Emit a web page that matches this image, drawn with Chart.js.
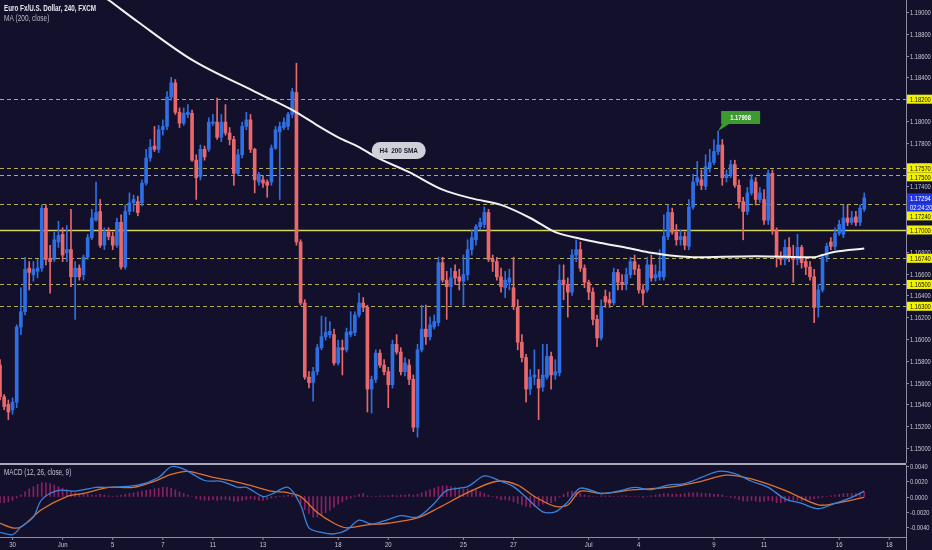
<!DOCTYPE html>
<html>
<head>
<meta charset="utf-8">
<script src="https://cdn.jsdelivr.net/npm/chart.js@4.4.1/dist/chart.umd.min.js"></script>
<style>
  html, body { margin: 0; padding: 0; background: #12102a; }
  #wrap { position: relative; width: 932px; height: 550px; background: #12102a; overflow: hidden; }
  #main { position: absolute; left: 0; top: 0; }
  #macd { position: absolute; left: 0; top: 463px; }
</style>
</head>
<body>
<div id="wrap">
  <canvas id="main" width="932" height="463"></canvas>
  <canvas id="macd" width="932" height="87"></canvas>
</div>
<script>
// EUR/USD 4H bars, FXCM
const tradingDays = ['May 29','May 30','May 31','Jun 1','Jun 4','Jun 5','Jun 6','Jun 7','Jun 8',
  'Jun 11','Jun 12','Jun 13','Jun 14','Jun 15','Jun 18','Jun 19','Jun 20','Jun 21','Jun 22',
  'Jun 25','Jun 26','Jun 27','Jun 28','Jun 29','Jul 2','Jul 3','Jul 4','Jul 5','Jul 6',
  'Jul 9','Jul 10','Jul 11','Jul 12','Jul 13','Jul 16','Jul 17','Jul 18'];
const sessionHours = ['00:00','04:00','08:00','12:00','16:00','20:00'];

const opens = [
  1.1576,1.1547,1.1540,1.1535,1.1542,1.1611,1.1625,1.1665,1.1659,1.1662,
  1.1665,1.1720,1.1674,1.1673,1.1689,1.1696,1.1679,1.1682,1.1657,1.1665,
  1.1659,1.1675,1.1693,1.1709,1.1717,1.1686,1.1698,1.1694,1.1686,1.1707,
  1.1666,1.1717,1.1725,1.1726,1.1725,1.1743,1.1766,1.1777,1.1774,1.1792,
  1.1795,1.1822,1.1835,1.1808,1.1798,1.1806,1.1807,1.1764,1.1749,1.1774,
  1.1774,1.1798,1.1799,1.1785,1.1799,1.1789,1.1783,1.1752,1.1769,1.1795,
  1.1801,1.1774,1.1744,1.1746,1.1744,1.1744,1.1775,1.1790,1.1794,1.1795,
  1.1806,1.1826,1.1689,1.1633,1.1565,1.1560,1.1570,1.1592,1.1602,1.1604,
  1.1604,1.1578,1.1592,1.1590,1.1604,1.1606,1.1622,1.1633,1.1629,1.1554,
  1.1563,1.1587,1.1576,1.1570,1.1558,1.1595,1.1588,1.1570,1.1576,1.1563,
  1.1519,1.1590,1.1609,1.1602,1.1611,1.1615,1.1670,1.1654,1.1648,1.1662,
  1.1657,1.1653,1.1659,1.1682,1.1691,1.1703,1.1705,1.1716,1.1673,1.1671,
  1.1657,1.1647,1.1652,1.1647,1.1629,1.1597,1.1583,1.1554,1.1565,1.1563,
  1.1556,1.1565,1.1584,1.1567,1.1569,1.1654,1.1650,1.1643,1.1677,1.1682,
  1.1665,1.1652,1.1643,1.1618,1.1601,1.1639,1.1636,1.1633,1.1661,1.1652,
  1.1650,1.1659,1.1671,1.1664,1.1645,1.1645,1.1668,1.1656,1.1657,1.1657,
  1.1694,1.1716,1.1698,1.1691,1.1694,1.1685,1.1721,1.1744,1.1746,1.1740,
  1.1757,1.1762,1.1772,1.1778,1.1748,1.1751,1.1760,1.1741,1.1726,1.1717,
  1.1734,1.1744,1.1728,1.1728,1.1709,1.1752,1.1700,1.1675,1.1673,1.1684,
  1.1675,1.1673,1.1684,1.1671,1.1666,1.1657,1.1629,1.1645,1.1675,1.1689,
  1.1685,1.1697,1.1696,1.1711,1.1707,1.1712,1.1707,1.1719
];
const highs = [
  1.1581,1.1549,1.1544,1.1546,1.1613,1.1647,1.1675,1.1671,1.1671,1.1673,
  1.1723,1.1723,1.1686,1.1698,1.1708,1.1702,1.1704,1.1719,1.1671,1.1668,
  1.1677,1.1696,1.1719,1.1744,1.1728,1.1702,1.1702,1.1698,1.1711,1.1714,
  1.1723,1.1734,1.1732,1.1731,1.1746,1.1774,1.1783,1.1795,1.1796,1.1801,
  1.1827,1.1840,1.1838,1.1812,1.1812,1.1815,1.1810,1.1769,1.1778,1.1777,
  1.1803,1.1806,1.1821,1.1806,1.1815,1.1794,1.1786,1.1774,1.1799,1.1808,
  1.1806,1.1775,1.1753,1.1750,1.1746,1.1778,1.1795,1.1799,1.1803,1.1808,
  1.1830,1.1853,1.1691,1.1636,1.1570,1.1574,1.1595,1.1621,1.1620,1.1616,
  1.1609,1.1599,1.1599,1.1610,1.1625,1.1625,1.1642,1.1638,1.1631,1.1566,
  1.1590,1.1590,1.1581,1.1574,1.1599,1.1604,1.1592,1.1583,1.1581,1.1567,
  1.1595,1.1631,1.1631,1.1620,1.1622,1.1675,1.1675,1.1662,1.1665,1.1668,
  1.1664,1.1677,1.1691,1.1700,1.1705,1.1711,1.1721,1.1719,1.1677,1.1675,
  1.1665,1.1662,1.1664,1.1675,1.1636,1.1604,1.1586,1.1572,1.1590,1.1572,
  1.1595,1.1595,1.1588,1.1581,1.1668,1.1668,1.1656,1.1682,1.1691,1.1689,
  1.1668,1.1654,1.1647,1.1622,1.1636,1.1645,1.1643,1.1665,1.1664,1.1659,
  1.1665,1.1675,1.1677,1.1668,1.1650,1.1675,1.1677,1.1668,1.1682,1.1714,
  1.1723,1.1720,1.1705,1.1700,1.1698,1.1728,1.1751,1.1763,1.1755,1.1769,
  1.1774,1.1783,1.17908,1.1783,1.1755,1.1764,1.1764,1.1746,1.1730,1.1739,
  1.1751,1.1748,1.1739,1.1737,1.1755,1.1755,1.1702,1.1680,1.1691,1.1693,
  1.1686,1.1696,1.1686,1.1675,1.1671,1.1664,1.1650,1.1677,1.1688,1.1693,
  1.1702,1.1709,1.1723,1.1723,1.1717,1.1717,1.1723,1.1734
];
const lows = [
  1.1544,1.1535,1.1526,1.1531,1.1537,1.1604,1.1622,1.1645,1.1653,1.1656,
  1.1662,1.1668,1.1642,1.1671,1.1684,1.1671,1.1671,1.1648,1.1618,1.1654,
  1.1654,1.1673,1.1691,1.1708,1.1684,1.1682,1.1691,1.1682,1.1684,1.1664,
  1.1664,1.1714,1.1717,1.1713,1.1722,1.1741,1.1763,1.1772,1.1771,1.1787,
  1.1792,1.1819,1.1806,1.1794,1.1796,1.1803,1.1763,1.1728,1.1746,1.1764,
  1.1772,1.1796,1.1783,1.1781,1.1787,1.1778,1.1741,1.1750,1.1766,1.1792,
  1.1771,1.1734,1.1741,1.1739,1.1730,1.1741,1.1774,1.1728,1.1792,1.1792,
  1.1803,1.1686,1.1631,1.1563,1.1555,1.1543,1.1567,1.1590,1.1599,1.1601,
  1.1576,1.1576,1.1567,1.1588,1.1602,1.1603,1.1620,1.1625,1.1533,1.1532,
  1.1560,1.1574,1.1567,1.1537,1.1555,1.1586,1.1567,1.1566,1.1558,1.1515,
  1.1510,1.1588,1.1595,1.1599,1.1609,1.1612,1.1652,1.1618,1.1631,1.1650,
  1.1645,1.1631,1.1654,1.1677,1.1686,1.1700,1.1702,1.1671,1.1662,1.1654,
  1.1643,1.1638,1.1645,1.1627,1.1590,1.1579,1.1542,1.1549,1.1558,1.1526,
  1.1552,1.1563,1.1554,1.1563,1.1566,1.1636,1.1620,1.1640,1.1671,1.1662,
  1.1647,1.1636,1.1613,1.1593,1.1599,1.1629,1.1629,1.1631,1.1645,1.1645,
  1.1645,1.1656,1.1659,1.1642,1.1631,1.1643,1.1653,1.1653,1.1654,1.1654,
  1.1691,1.1696,1.1686,1.1686,1.1682,1.1682,1.1719,1.1741,1.1737,1.1737,
  1.1753,1.1760,1.1769,1.1741,1.1744,1.1748,1.1739,1.1720,1.1691,1.1714,
  1.1732,1.1723,1.1725,1.1705,1.1705,1.1696,1.1666,1.1668,1.1668,1.1671,
  1.1652,1.1668,1.1665,1.1659,1.1654,1.1615,1.1620,1.1643,1.1671,1.1682,
  1.1682,1.1695,1.1693,1.1704,1.1705,1.1704,1.1704,1.1717
];
const closes = [
  1.1547,1.1538,1.1533,1.1542,1.1611,1.1625,1.1664,1.1661,1.1664,1.1665,
  1.1720,1.1673,1.1671,1.1691,1.1695,1.1677,1.1682,1.1657,1.1665,1.1657,
  1.1675,1.1693,1.1711,1.1716,1.1686,1.1698,1.1694,1.1686,1.1707,1.1666,
  1.1717,1.1725,1.1728,1.1716,1.1743,1.1766,1.1776,1.1774,1.1792,1.1795,
  1.1822,1.1835,1.1808,1.1798,1.1807,1.1808,1.1764,1.1748,1.1774,1.1767,
  1.1799,1.1799,1.1785,1.1799,1.1789,1.1783,1.1752,1.1769,1.1795,1.1801,
  1.1774,1.1746,1.1751,1.1743,1.1741,1.1775,1.1792,1.1795,1.1799,1.1806,
  1.1827,1.1689,1.1633,1.1565,1.1560,1.1570,1.1592,1.1602,1.1606,1.1607,
  1.1578,1.1592,1.1590,1.1606,1.1607,1.1622,1.1633,1.1629,1.1554,1.1563,
  1.1587,1.1576,1.1570,1.1558,1.1595,1.1588,1.1570,1.1578,1.1563,1.1519,
  1.1590,1.1609,1.1602,1.1613,1.1616,1.1670,1.1654,1.1648,1.1656,1.1656,
  1.1653,1.1659,1.1682,1.1693,1.1703,1.1707,1.1716,1.1673,1.1671,1.1657,
  1.1648,1.1654,1.1656,1.1630,1.1597,1.1583,1.1554,1.1565,1.1567,1.1555,
  1.1567,1.1584,1.1567,1.1570,1.1654,1.1650,1.1643,1.1677,1.1682,1.1665,
  1.1652,1.1643,1.1618,1.1601,1.1630,1.1634,1.1633,1.1661,1.1652,1.1650,
  1.1659,1.1671,1.1664,1.1645,1.1642,1.1668,1.1656,1.1659,1.1662,1.1694,
  1.1716,1.1698,1.1691,1.1694,1.1686,1.1721,1.1744,1.1748,1.1741,1.1758,
  1.1762,1.1772,1.1778,1.1748,1.1751,1.1760,1.1741,1.1726,1.1717,1.1734,
  1.1746,1.1728,1.1734,1.1709,1.1752,1.1700,1.1675,1.1673,1.1684,1.1675,
  1.1673,1.1684,1.1670,1.1666,1.1657,1.1629,1.1645,1.1675,1.1685,1.1685,
  1.1697,1.1705,1.1711,1.1707,1.1711,1.1707,1.1720,1.17294
];

// 200-period SMA (bar index -> value)
const smaIndex = [22,26,33,46,61,71,76,81,86,90,98,106,113,120,127,133,139,144,151,156,166,181,195,197,200,207];
const smaValue = [1.1922,1.1911,1.1891,1.1856,1.1827,1.1808,1.1796,1.1785,1.1776,1.1767,1.1753,1.1737,1.1729,
  1.1723,1.1711,1.1698,1.1692,1.1688,1.1683,1.1679,1.1675,1.1676,1.1675,1.1677,1.1680,1.1683];

// MACD (12, 26, close, 9)
const macdIndex = [0,3,5,8,10,14,18,23,26,33,38,41,44,49,53,57,59,63,65,69,72,74,77,80,83,86,89,92,96,100,
  104,107,112,116,120,123,126,130,133,136,139,144,148,152,156,160,164,168,172,176,180,184,188,192,196,200,204,207];
const macdValue = [-0.0047,-0.0050,-0.0040,-0.0027,-0.0004,0.0008,0.0007,0.0012,0.0012,0.0015,0.0025,0.0039,0.0036,
  0.0021,0.0020,0.0012,0.0012,0.0000,0.0003,0.0012,-0.0011,-0.0041,-0.0047,-0.0049,-0.0044,-0.0031,-0.0036,-0.0032,
  -0.0025,-0.0027,-0.0009,0.0008,0.0013,0.0027,0.0020,0.0013,-0.0001,-0.0020,-0.0020,-0.0007,0.0011,0.0004,0.0007,
  0.0012,0.0009,0.0015,0.0017,0.0025,0.0033,0.0030,0.0020,0.0012,-0.0003,-0.0009,-0.0016,-0.0009,-0.0001,0.0007];
const signalIndex = [0,3,5,10,16,20,26,32,37,41,45,51,56,61,65,69,72,76,80,83,88,93,100,105,112,119,124,128,133,
  136,139,144,152,160,168,174,180,188,196,200,207];
const signalValue = [-0.0035,-0.0041,-0.0040,-0.0017,0.0000,0.0004,0.0012,0.0012,0.0020,0.0029,0.0033,0.0025,0.0020,
  0.0013,0.0007,0.0005,0.0000,-0.0021,-0.0035,-0.0041,-0.0037,-0.0035,-0.0028,-0.0015,0.0005,0.0020,0.0015,0.0000,
  -0.0013,-0.0011,0.0007,0.0004,0.0009,0.0012,0.0020,0.0028,0.0023,0.0008,-0.0011,-0.0009,-0.0001];
const histogram = [
  -0.0008,-0.0008,-0.0007,-0.0005,-0.0002,0.0002,0.0006,0.0010,0.0013,0.0016,
  0.0018,0.0018,0.0017,0.0015,0.0013,0.0011,0.0009,0.0007,0.0005,0.0004,
  0.0003,0.0003,0.0002,0.0002,0.0003,0.0002,0.0001,0.0000,0.0001,0.0002,
  0.0003,0.0004,0.0005,0.0006,0.0007,0.0008,0.0009,0.0010,0.0011,0.0012,
  0.0012,0.0011,0.0009,0.0006,0.0004,0.0002,0.0000,-0.0003,-0.0004,-0.0005,
  -0.0005,-0.0004,-0.0005,-0.0004,-0.0004,-0.0005,-0.0006,-0.0006,-0.0005,-0.0004,
  -0.0003,-0.0004,-0.0005,-0.0005,-0.0004,-0.0002,-0.0001,0.0000,0.0001,0.0002,
  0.0002,0.0001,-0.0009,-0.0017,-0.0022,-0.0027,-0.0027,-0.0025,-0.0021,-0.0018,
  -0.0014,-0.0010,-0.0007,-0.0004,-0.0002,0.0001,0.0003,0.0004,0.0001,0.0000,
  0.0000,0.0001,0.0001,0.0001,0.0002,0.0001,0.0002,0.0002,0.0003,0.0002,
  0.0003,0.0005,0.0007,0.0009,0.0011,0.0013,0.0014,0.0014,0.0013,0.0012,
  0.0011,0.0010,0.0010,0.0009,0.0008,0.0006,0.0004,0.0002,0.0000,-0.0002,
  -0.0004,-0.0004,-0.0005,-0.0007,-0.0009,-0.0011,-0.0013,-0.0014,-0.0013,-0.0012,
  -0.0010,-0.0009,-0.0008,-0.0006,-0.0001,0.0003,0.0006,0.0007,0.0006,0.0004,
  0.0002,0.0001,0.0000,0.0000,0.0001,0.0001,0.0001,0.0000,0.0000,0.0001,
  0.0001,0.0000,0.0000,0.0000,-0.0001,0.0000,0.0001,0.0002,0.0003,0.0004,
  0.0004,0.0003,0.0003,0.0003,0.0004,0.0005,0.0005,0.0005,0.0004,0.0004,
  0.0004,0.0003,0.0003,0.0002,0.0000,-0.0001,-0.0002,-0.0004,-0.0006,-0.0006,
  -0.0005,-0.0006,-0.0007,-0.0006,-0.0005,-0.0006,-0.0008,-0.0008,-0.0007,-0.0006,
  -0.0005,-0.0005,-0.0006,-0.0005,-0.0004,-0.0003,-0.0002,-0.0001,0.0000,0.0001,
  0.0002,0.0003,0.0004,0.0004,0.0004,0.0004,0.0005,0.0006
];

// drawn horizontal levels
const levels = [1.1820, 1.1757, 1.1750, 1.1724, 1.1700, 1.1674, 1.1650, 1.1630];
const keyLevel = 1.1700;
const countdown = '02:24:20';

// x-axis tick labels
const tickDays = ['May 30','Jun 1','Jun 5','Jun 7','Jun 11','Jun 13','Jun 18','Jun 20','Jun 25','Jun 27',
  'Jul 2','Jul 4','Jul 9','Jul 11','Jul 16','Jul 18'];
const tickText = ['30','Jun','5','7','11','13','18','20','25','27','Jul','4','9','11','16','18'];

// ---------------------------------------------------------------
const barLabels = tradingDays.flatMap(d => sessionHours.map(h => d + ' ' + h)).slice(3, 221);
const N = barLabels.length;
const lastPrice = closes[closes.length - 1];
const peakIdx = 172;

const UP = '#2f6fe4';
const DOWN = '#e9686c';
const candleColors = opens.map((o, i) => closes[i] >= o ? UP : DOWN);

function sparse(idx, vals) {
  const arr = new Array(N).fill(null);
  idx.forEach((k, j) => { arr[k] = vals[j]; });
  return arr;
}

function txt(ctx, s, x, y, size, color, opt) {
  opt = opt || {};
  ctx.save();
  ctx.font = (opt.bold ? 'bold ' : '') + size + 'px "Liberation Sans", Arial, sans-serif';
  ctx.fillStyle = color;
  ctx.textBaseline = 'middle';
  ctx.textAlign = opt.align || 'left';
  ctx.translate(x, y);
  ctx.scale(opt.sx || 0.72, 1);
  ctx.fillText(s, 0, 0);
  ctx.restore();
}

const AXIS_W = 26;
const AXIS_COL = '#8c8ca2';
const LABEL_COL = '#c9c9d6';

const mainDeco = {
  id: 'mainDeco',
  beforeDatasetsDraw(chart) {
    const { ctx, chartArea: a, scales: { y } } = chart;
    ctx.save();
    levels.forEach(p => {
      const py = Math.round(y.getPixelForValue(p)) + 0.5;
      const solid = p === keyLevel;
      ctx.beginPath();
      ctx.setLineDash(solid ? [] : [4, 3]);
      ctx.strokeStyle = solid ? '#d6d45c' : 'rgba(206,200,96,0.85)';
      ctx.lineWidth = solid ? 1.4 : 1;
      ctx.moveTo(a.left, py);
      ctx.lineTo(a.right, py);
      ctx.stroke();
    });
    ctx.restore();
  },
  afterDraw(chart) {
    const { ctx, chartArea: a, scales: { x, y } } = chart;
    // price axis ticks + labels
    ctx.save();
    ctx.strokeStyle = AXIS_COL;
    ctx.lineWidth = 1;
    y.ticks.forEach(t => {
      const py = Math.round(y.getPixelForValue(t.value)) + 0.5;
      ctx.beginPath(); ctx.moveTo(a.right, py); ctx.lineTo(a.right + 3, py); ctx.stroke();
      txt(ctx, t.value.toFixed(5), a.right + 4, py, 8, LABEL_COL);
    });
    ctx.restore();

    // badges on the price axis
    const items = levels.map(p => ({ y: y.getPixelForValue(p), s: p.toFixed(5), bg: '#f2f200', fg: '#111' }));
    const cy = y.getPixelForValue(lastPrice);
    items.push({ y: cy, s: lastPrice.toFixed(5), bg: '#2236e6', fg: '#ffffff' });
    items.push({ y: cy + 0.01, s: countdown, bg: '#2236e6', fg: '#ffffff' });
    items.sort((p, q) => p.y - q.y);
    const H = 9;
    let prev = -Infinity;
    items.forEach(it => {
      const c = Math.max(it.y, prev + H / 2);
      prev = c + H / 2;
      ctx.fillStyle = it.bg;
      ctx.fillRect(a.right + 1, c - H / 2, chart.width - a.right - 1, H);
      txt(ctx, it.s, a.right + 4, c + 0.5, 8, it.fg);
    });

    // high callout
    const ax = x.getPixelForValue(peakIdx);
    const ay = y.getPixelForValue(highs[peakIdx]);
    ctx.save();
    ctx.fillStyle = '#3c9a2e';
    ctx.beginPath();
    ctx.moveTo(ax, ay);
    ctx.lineTo(ax + 4, ay - 7);
    ctx.lineTo(ax + 11, ay - 7);
    ctx.closePath();
    ctx.fill();
    ctx.fillRect(ax + 3, ay - 20, 39, 13);
    ctx.restore();
    txt(ctx, highs[peakIdx].toFixed(5), ax + 22.5, ay - 13.5, 8, '#ffffff', { bold: true, align: 'center' });

    // SMA note
    const nx = x.getPixelForValue(95.5);
    const ny = y.getPixelForValue(1.1773);
    ctx.save();
    ctx.fillStyle = '#d0d0d8';
    ctx.beginPath();
    ctx.roundRect(nx - 27, ny - 8.5, 54, 17, 8.5);
    ctx.fill();
    ctx.restore();
    txt(ctx, 'H4  200 SMA', nx, ny + 0.5, 8, '#1b1b2c', { bold: true, align: 'center', sx: 0.8 });

    // legend text
    txt(ctx, 'Euro Fx/U.S. Dollar, 240, FXCM', 4, 9, 9, '#e8e8f0', { bold: true, sx: 0.7 });
    txt(ctx, 'MA (200, close)', 4, 18.5, 9, '#bcbcc8', { sx: 0.72 });
  }
};

new Chart(document.getElementById('main'), {
  type: 'bar',
  data: {
    labels: barLabels,
    datasets: [
      {
        type: 'line',
        data: sparse(smaIndex, smaValue),
        borderColor: '#f2f2f2',
        borderWidth: 2,
        pointRadius: 0,
        spanGaps: true,
        cubicInterpolationMode: 'monotone',
        order: 0
      },
      {
        data: opens.map((o, i) => [o, closes[i]]),
        backgroundColor: candleColors,
        barThickness: 3,
        minBarLength: 1,
        grouped: false,
        order: 1
      },
      {
        data: lows.map((l, i) => [l, highs[i]]),
        backgroundColor: candleColors,
        barThickness: 1,
        grouped: false,
        order: 2
      }
    ]
  },
  options: {
    responsive: false,
    animation: false,
    devicePixelRatio: 1,
    layout: { padding: 0 },
    plugins: { legend: { display: false }, tooltip: { enabled: false } },
    scales: {
      x: { type: 'category', offset: false, display: false },
      y: {
        position: 'right',
        min: 1.14862,
        max: 1.1911,
        afterFit: s => { s.width = AXIS_W; },
        ticks: { display: false, stepSize: 0.002, includeBounds: false },
        grid: { display: false },
        border: { display: true, color: AXIS_COL }
      }
    }
  },
  plugins: [mainDeco]
});

const macdDeco = {
  id: 'macdDeco',
  afterDraw(chart) {
    const { ctx, chartArea: a, scales: { x, y } } = chart;
    ctx.save();
    // pane separator
    ctx.fillStyle = '#a9a9ba';
    ctx.fillRect(0, 0, a.right, 2);
    // bottom axis line
    ctx.strokeStyle = AXIS_COL;
    ctx.lineWidth = 1;
    ctx.beginPath();
    ctx.moveTo(0, a.bottom + 0.5);
    ctx.lineTo(a.right + 0.5, a.bottom + 0.5);
    ctx.lineTo(a.right + 0.5, chart.height);
    ctx.stroke();
    y.ticks.forEach(t => {
      const py = Math.round(y.getPixelForValue(t.value)) + 0.5;
      const v = Math.abs(t.value) < 1e-9 ? 0 : t.value;
      ctx.beginPath(); ctx.moveTo(a.right, py); ctx.lineTo(a.right + 3, py); ctx.stroke();
      txt(ctx, v.toFixed(4), a.right + 4, py, 8, LABEL_COL);
    });
    tickDays.forEach((d, k) => {
      const idx = barLabels.indexOf(d + ' 00:00');
      if (idx < 0) return;
      const px = x.getPixelForValue(idx);
      ctx.beginPath(); ctx.moveTo(px, a.bottom); ctx.lineTo(px, a.bottom + 3); ctx.stroke();
      txt(ctx, tickText[k], px, a.bottom + 8, 8, LABEL_COL, { align: 'center', sx: 0.75 });
    });
    ctx.restore();
    txt(ctx, 'MACD (12, 26, close, 9)', 4, 10, 9, '#c4c4d0', { sx: 0.7 });
  }
};

new Chart(document.getElementById('macd'), {
  type: 'bar',
  data: {
    labels: barLabels,
    datasets: [
      {
        type: 'line',
        data: sparse(macdIndex, macdValue),
        borderColor: '#3a83dc',
        borderWidth: 1.3,
        pointRadius: 0,
        spanGaps: true,
        tension: 0.3,
        order: 0
      },
      {
        type: 'line',
        data: sparse(signalIndex, signalValue),
        borderColor: '#dc7333',
        borderWidth: 1.3,
        pointRadius: 0,
        spanGaps: true,
        tension: 0.3,
        order: 1
      },
      {
        data: histogram,
        backgroundColor: 'rgba(190,40,120,0.7)',
        barThickness: 1,
        order: 2
      }
    ]
  },
  options: {
    responsive: false,
    animation: false,
    devicePixelRatio: 1,
    layout: { padding: { top: 2, bottom: 13 } },
    plugins: { legend: { display: false }, tooltip: { enabled: false } },
    scales: {
      x: { type: 'category', offset: false, display: false },
      y: {
        position: 'right',
        min: -0.0053,
        max: 0.00413,
        afterFit: s => { s.width = AXIS_W; },
        ticks: { display: false, stepSize: 0.002, includeBounds: false },
        grid: { display: false },
        border: { display: true, color: AXIS_COL }
      }
    }
  },
  plugins: [macdDeco]
});
</script>
</body>
</html>
